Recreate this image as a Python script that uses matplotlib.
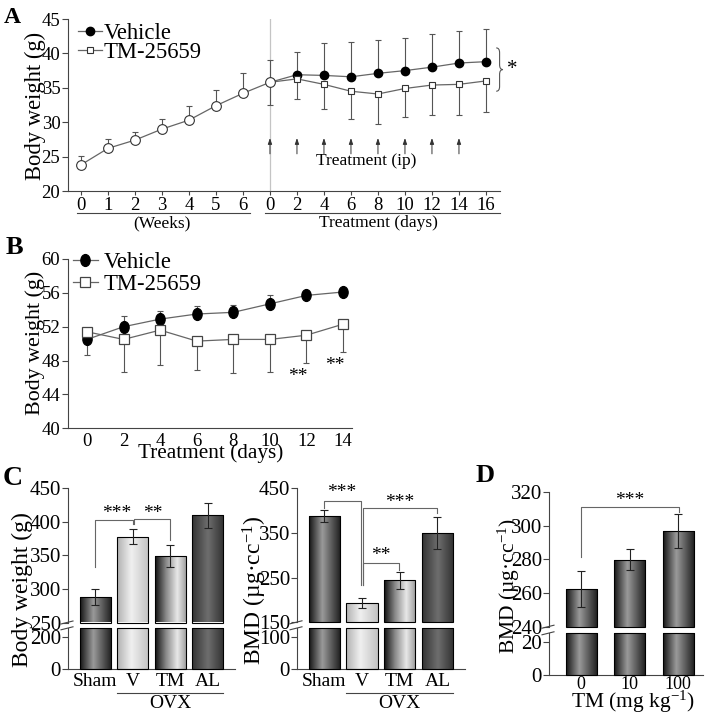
import numpy as np
import matplotlib
matplotlib.use("Agg")
import matplotlib.pyplot as plt
import matplotlib.transforms as mtransforms
from matplotlib.colors import LinearSegmentedColormap
from matplotlib.lines import Line2D
from matplotlib.path import Path
import matplotlib.patches as mpatches

# ---------------- data ----------------
# Panel A
weeks = [0, 1, 2, 3, 4, 5, 6]
week_bw = [23.8, 26.2, 27.4, 29.0, 30.3, 32.4, 34.2]
week_err = [1.3, 1.4, 1.2, 1.5, 2.1, 2.3, 2.9]
a_days = [0, 2, 4, 6, 8, 10, 12, 14, 16]
a_vehicle = [35.8, 36.9, 36.8, 36.6, 37.1, 37.5, 38.0, 38.6, 38.8]
a_vehicle_err = [3.3, 3.3, 4.7, 5.0, 4.8, 4.8, 4.8, 4.7, 4.7]
a_tm = [35.8, 36.3, 35.5, 34.5, 34.1, 34.9, 35.4, 35.5, 36.0]
a_tm_err = [3.3, 2.9, 3.6, 4.1, 4.3, 4.2, 4.3, 4.4, 4.5]
ip_days = [0, 2, 4, 6, 8, 10, 12, 14]

# Panel B
b_days = [0, 2, 4, 6, 8, 10, 12, 14]
b_vehicle = [50.5, 52.0, 52.9, 53.5, 53.7, 54.7, 55.7, 56.1]
b_vehicle_lo = [1.8, 0, 0, 0, 0, 0, 0, 0]
b_vehicle_hi = [0, 1.3, 0.9, 1.0, 0.9, 1.1, 0.3, 0.3]
b_tm = [51.4, 50.5, 51.6, 50.3, 50.5, 50.5, 51.0, 52.3]
b_tm_lo = [0.3, 3.8, 4.1, 3.4, 4.0, 3.8, 3.3, 3.3]
b_sig_days = [12, 14]

# Panel C
c_groups = ["Sham", "V", "TM", "AL"]
c_bw = [288, 378, 349, 410]
c_bw_err = [12, 11, 16, 18.5]
c_bmd = [388, 193, 244, 350]
c_bmd_err = [14.5, 11, 19, 36]

# Panel D
d_doses = ["0", "10", "100"]
d_bmd = [262.5, 280, 297]
d_bmd_err = [10.8, 6.2, 10.3]

# ---------------- style ----------------
plt.rcParams.update({
    "font.family": ["Liberation Serif", "DejaVu Serif"],
    "mathtext.fontset": "custom",
    "mathtext.rm": "Liberation Serif",
    "mathtext.it": "Liberation Serif:italic",
    "axes.linewidth": 0.8,
    "axes.edgecolor": "#444444",
    "xtick.color": "#444444",
    "ytick.color": "#444444",
    "xtick.labelcolor": "black",
    "ytick.labelcolor": "black",
    "xtick.major.width": 0.8,
    "ytick.major.width": 0.8,
})

W, H = 708, 718
fig = plt.figure(figsize=(W / 100, H / 100), dpi=100)
PX = mtransforms.Affine2D().scale(1 / W, -1 / H).translate(0, 1) + fig.transFigure
GREY = "#666666"
EGREY = "#555555"


def add_ax(x0, y0, x1, y1):
    return fig.add_axes([x0 / W, 1 - y1 / H, (x1 - x0) / W, (y1 - y0) / H])


def clean(ax, bottom=True):
    ax.spines["top"].set_visible(False)
    ax.spines["right"].set_visible(False)
    ax.spines["bottom"].set_visible(bottom)
    ax.patch.set_alpha(0)


def ftext(x, y, s, **kw):
    return fig.text(x, y, s, transform=PX, **kw)


# ================= Panel A =================
axA = add_ax(68, 19, 500, 191)
clean(axA)
pos_w = np.arange(len(weeks))
pos_d = len(weeks) + np.array(a_days) / 2.0
zeros_w = np.zeros(len(weeks))
ek = dict(fmt="none", ecolor=EGREY, elinewidth=0.8, capsize=2.3, capthick=0.8, zorder=2)
axA.errorbar(pos_w, week_bw, yerr=[zeros_w, week_err], **ek)
axA.errorbar(pos_d[:1], a_vehicle[:1], yerr=a_vehicle_err[:1], **ek)
nz = np.zeros(len(a_days) - 1)
axA.errorbar(pos_d[1:], a_vehicle[1:], yerr=[nz, a_vehicle_err[1:]], **ek)
axA.errorbar(pos_d[1:], a_tm[1:], yerr=[a_tm_err[1:], nz], **ek)
axA.plot(pos_d, a_vehicle, color=GREY, lw=0.9, marker="o", ms=6, mfc="black",
         mec="black", markevery=slice(1, None), zorder=4)
axA.plot(pos_d, a_tm, color=GREY, lw=0.9, marker="s", ms=5, mfc="white",
         mec="#333333", mew=0.8, markevery=slice(1, None), zorder=4)
axA.plot(np.append(pos_w, pos_d[0]), week_bw + a_vehicle[:1], color=GREY, lw=0.9,
         marker="o", ms=7, mfc="white", mec="#333333", mew=0.8, zorder=5)
axA.axvline(pos_d[0], color="#c4c4c4", lw=0.9, zorder=0)
for d in ip_days:
    p = len(weeks) + d / 2.0
    axA.annotate("", xy=(p, 27.7), xytext=(p, 25.4),
                 arrowprops=dict(arrowstyle="-|>,head_length=0.35,head_width=0.12",
                                 lw=0.7, color="#333333", shrinkA=0, shrinkB=0))
axA.text(len(weeks) + np.mean(ip_days) / 2.0 + 0.05, 24.3, "Treatment (ip)", fontsize=12.5,
         ha="center", va="center")
axA.set_xlim(-0.48, 15.52)
axA.set_ylim(20, 45)
axA.set_yticks([20, 25, 30, 35, 40, 45])
axA.set_xticks(np.append(pos_w, pos_d))
axA.set_xticklabels([str(w) for w in weeks] + [str(d) for d in a_days])
axA.tick_params(axis="x", length=3, pad=1.5, labelsize=13.5)
axA.tick_params(axis="y", length=4, pad=1.5, labelsize=13.5)
bl = mtransforms.blended_transform_factory(axA.transData, PX)
axA.plot([-0.15, 6.26], [213, 213], color="#444444", lw=0.8, transform=bl, clip_on=False)
axA.plot([6.81, 15.52], [213, 213], color="#444444", lw=0.8, transform=bl, clip_on=False)
axA.text(np.mean(pos_w), 223, "(Weeks)", transform=bl, fontsize=12.5, ha="center", va="center")
axA.text(np.mean(pos_d), 223, "Treatment (days)", transform=bl, fontsize=12.5, ha="center", va="center")

# brace + star
bx0, bw = 15.38, 0.25
yt, yb = 40.8, 34.5
ym = (yt + yb) / 2
r = 0.7
verts = [(bx0, yt), (bx0 + bw / 2, yt), (bx0 + bw / 2, yt - r),
         (bx0 + bw / 2, ym + r),
         (bx0 + bw / 2, ym), (bx0 + bw, ym),
         (bx0 + bw / 2, ym), (bx0 + bw / 2, ym - r),
         (bx0 + bw / 2, yb + r),
         (bx0 + bw / 2, yb), (bx0, yb)]
codes = [Path.MOVETO, Path.CURVE3, Path.CURVE3, Path.LINETO, Path.CURVE3, Path.CURVE3,
         Path.CURVE3, Path.CURVE3, Path.LINETO, Path.CURVE3, Path.CURVE3]
axA.add_patch(mpatches.PathPatch(Path(verts, codes), fc="none", ec="#555555", lw=0.8,
                                 clip_on=False))
axA.text(15.99, ym, "*", fontsize=15, ha="center", va="center")

hV = Line2D([], [], color=GREY, lw=0.9, marker="o", ms=6, mfc="black", mec="black")
hT = Line2D([], [], color=GREY, lw=0.9, marker="s", ms=5, mfc="white", mec="#333333", mew=0.8)
axA.legend([hV, hT], ["Vehicle", "TM-25659"], loc="upper left", bbox_to_anchor=(0.023, 0.975),
           frameon=False, fontsize=16.3, handlelength=1.05, handletextpad=0.08,
           borderpad=0, borderaxespad=0, labelspacing=-0.1)
ftext(35, 106, "Body weight (g)", rotation=90, fontsize=16.3, ha="center", va="center")

# ================= Panel B =================
axB = add_ax(68, 259, 352, 428.3)
clean(axB)
ell = Path.unit_circle().transformed(mtransforms.Affine2D().scale(0.78, 1.0))
axB.errorbar(b_days, b_vehicle, yerr=[b_vehicle_lo, b_vehicle_hi], **ek)
axB.errorbar(b_days, b_tm, yerr=[b_tm_lo, np.zeros(len(b_days))], **ek)
axB.plot(b_days, b_vehicle, color=GREY, lw=0.9, marker=ell, ms=8.5, mfc="black",
         mec="black", zorder=4)
axB.plot(b_days, b_tm, color=GREY, lw=0.9, marker="s", ms=7, mfc="white",
         mec="#444444", mew=0.9, zorder=5)
for d in b_sig_days:
    i = b_days.index(d)
    axB.text(d - 0.45, b_tm[i] - b_tm_lo[i] - 0.6, "**", fontsize=14, ha="center", va="top")
axB.set_xlim(-1.04, 14.49)
axB.set_ylim(40, 60)
axB.set_yticks([40, 44, 48, 52, 56, 60])
axB.set_xticks(b_days)
axB.tick_params(axis="x", length=0, pad=3.5, labelsize=13.5)
axB.tick_params(axis="y", length=4, pad=1.5, labelsize=13.5)
hV2 = Line2D([], [], color=GREY, lw=0.9, marker=ell, ms=8.5, mfc="black", mec="black")
hT2 = Line2D([], [], color=GREY, lw=0.9, marker="s", ms=7, mfc="white", mec="#444444", mew=0.9)
axB.legend([hV2, hT2], ["Vehicle", "TM-25659"], loc="upper left", bbox_to_anchor=(0.018, 1.04),
           frameon=False, fontsize=16.3, handlelength=1.08, handletextpad=0.27,
           borderpad=0, borderaxespad=0, labelspacing=0.03)
ftext(35, 343, "Body weight (g)", rotation=90, fontsize=15.8, ha="center", va="center")
ftext(211, 453, "Treatment (days)", fontsize=15.3, ha="center", va="center")

# ================= bars helpers =================
def cmap_from(stops):
    return LinearSegmentedColormap.from_list("g", stops)


SHAM = cmap_from([(0, "#141414"), (0.42, "#9a9a9a"), (1, "#1c1c1c")])
VEH = cmap_from([(0, "#b0b0b0"), (0.45, "#f0f0f0"), (1, "#c2c2c2")])
TMC = cmap_from([(0, "#0e0e0e"), (0.35, "#8a8a8a"), (0.7, "#e8e8e8"), (1, "#9a9a9a")])
ALC = cmap_from([(0, "#333333"), (0.5, "#6e6e6e"), (1, "#303030")])
GRAD = np.linspace(0, 1, 256)[None, :]


def fill_gradient(ax, bars, cmaps):
    for b, cm in zip(bars, cmaps):
        x0, w, y0, h = b.get_x(), b.get_width(), b.get_y(), b.get_height()
        im = ax.imshow(GRAD, cmap=cm, extent=(x0, x0 + w, y0, y0 + h), aspect="auto",
                       interpolation="bilinear", zorder=2, origin="lower")
        im.set_clip_path(b)
        b.set_clip_on(False)


def broken_panel(x0, x1, ytop, ybh, ybl, ybot, up_lim, up_ticks, low_lim, low_ticks,
                 xlim, values, errs, cmaps, width, labels, yfs, xfs, xpad):
    axU = add_ax(x0, ytop, x1, ybh)
    axL = add_ax(x0, ybl, x1, ybot)
    clean(axU, bottom=False)
    clean(axL)
    x = np.arange(len(values))
    vals = np.array(values, dtype=float)
    bU = axU.bar(x, vals - up_lim[0], bottom=up_lim[0], width=width, fc="none",
                 ec="black", lw=0.8, zorder=3)
    bL = axL.bar(x, np.minimum(vals, low_lim[1]), width=width, fc="none",
                 ec="black", lw=0.8, zorder=3)
    fill_gradient(axU, bU, cmaps)
    fill_gradient(axL, bL, cmaps)
    axU.errorbar(x, vals, yerr=errs, fmt="none", ecolor="#222222", elinewidth=0.8,
                 capsize=3, capthick=0.8, zorder=4)
    for ax, lim, tk in ((axU, up_lim, up_ticks), (axL, low_lim, low_ticks)):
        ax.set_xlim(*xlim)
        ax.set_ylim(*lim)
        ax.set_yticks(tk)
        ax.tick_params(axis="y", length=4, pad=1.0, labelsize=yfs)
    axU.set_xticks([])
    axL.set_xticks(x)
    axL.set_xticklabels(labels)
    axL.tick_params(axis="x", length=0, pad=xpad, labelsize=xfs)
    for yy in (ybh, ybl):
        ax_line = Line2D([x0 - 7, x0 + 5], [yy + 1.5, yy - 1.5], transform=PX,
                         color="#444444", lw=0.8)
        fig.add_artist(ax_line)
    return axU, axL


def bracket(ax, xa, xb, ytop, ya, yb):
    ax.plot([xa, xa, xb, xb], [ya, ytop, ytop, yb], color="#666666", lw=0.8,
            clip_on=False, zorder=5)


# ================= Panel C (body weight) =================
cU, cL = broken_panel(68, 235, 488.3, 622.5, 628.3, 669.3, (250, 450),
                      [250, 300, 350, 400, 450], (0, 251.5), [0, 200], (-0.728, 3.725),
                      c_bw, c_bw_err, [SHAM, VEH, TMC, ALC], 0.83, c_groups, 15, 14, 2.5)
bracket(cU, 0, 1.0, 402.3, 332.6, 397.3)
bracket(cU, 1.03, 1.99, 404.4, 397.3, 373.4)
cU.text(0.57, 413, "***", fontsize=14, ha="center", va="center")
cU.text(1.52, 413, "**", fontsize=14, ha="center", va="center")
blc = mtransforms.blended_transform_factory(cL.transData, PX)
cL.plot([0.58, 3.4], [692.7, 692.7], color="#444444", lw=0.8, transform=blc, clip_on=False)
cL.text(np.mean([1, 2, 3]), 703, "OVX", transform=blc, fontsize=14, ha="center", va="center")
ftext(22, 590, "Body weight (g)", rotation=90, fontsize=17, ha="center", va="center")

# ================= Panel C (BMD) =================
mU, mL = broken_panel(297, 465, 488.3, 622.3, 628.3, 669.3, (150, 450),
                      [150, 250, 350, 450], (0, 125.8), [0, 100], (-0.725, 3.73),
                      c_bmd, c_bmd_err, [SHAM, VEH, TMC, ALC], 0.83, c_groups, 15, 14, 2.5)
bracket(mU, 0, 0.97, 421.4, 407, 233.4)
bracket(mU, 1.02, 2.98, 405, 233.4, 395.2)
bracket(mU, 1.02, 1.97, 282, 233.4, 267)
mU.text(0.46, 440, "***", fontsize=14, ha="center", va="center")
mU.text(2.01, 418, "***", fontsize=14, ha="center", va="center")
mU.text(1.5, 299, "**", fontsize=14, ha="center", va="center")
blm = mtransforms.blended_transform_factory(mL.transData, PX)
mL.plot([0.58, 3.4], [692.7, 692.7], color="#444444", lw=0.8, transform=blm, clip_on=False)
mL.text(np.mean([1, 2, 3]), 703, "OVX", transform=blm, fontsize=14, ha="center", va="center")
ftext(255, 590, r"BMD (µg·cc$^{-1}$)", rotation=90, fontsize=17, ha="center", va="center")

# ================= Panel D =================
dU, dL = broken_panel(549, 703, 492.3, 626.7, 633.3, 675, (240, 320),
                      [240, 260, 280, 300, 320], (0, 25), [0, 20], (-0.66, 2.51),
                      d_bmd, d_bmd_err, [SHAM, SHAM, SHAM], 0.64, d_doses, 15, 13, 0.5)
bracket(dU, 0, 2.02, 311.4, 281.3, 308.4)
dU.text(1.0, 315, "***", fontsize=14, ha="center", va="center")
ftext(509, 586, r"BMD (µg·cc$^{-1}$)", rotation=90, fontsize=15.5, ha="center", va="center")
ftext(633, 702, r"TM (mg kg$^{-1}$)", fontsize=15.5, ha="center", va="center")

# panel letters
ftext(4, 7, "A", fontsize=17, fontweight="bold", ha="left", va="top")
ftext(6, 236, "B", fontsize=19, fontweight="bold", ha="left", va="top")
ftext(3, 466, "C", fontsize=20, fontweight="bold", ha="left", va="top")
ftext(476, 464, "D", fontsize=19, fontweight="bold", ha="left", va="top")

fig.savefig("out.png", dpi=100)
